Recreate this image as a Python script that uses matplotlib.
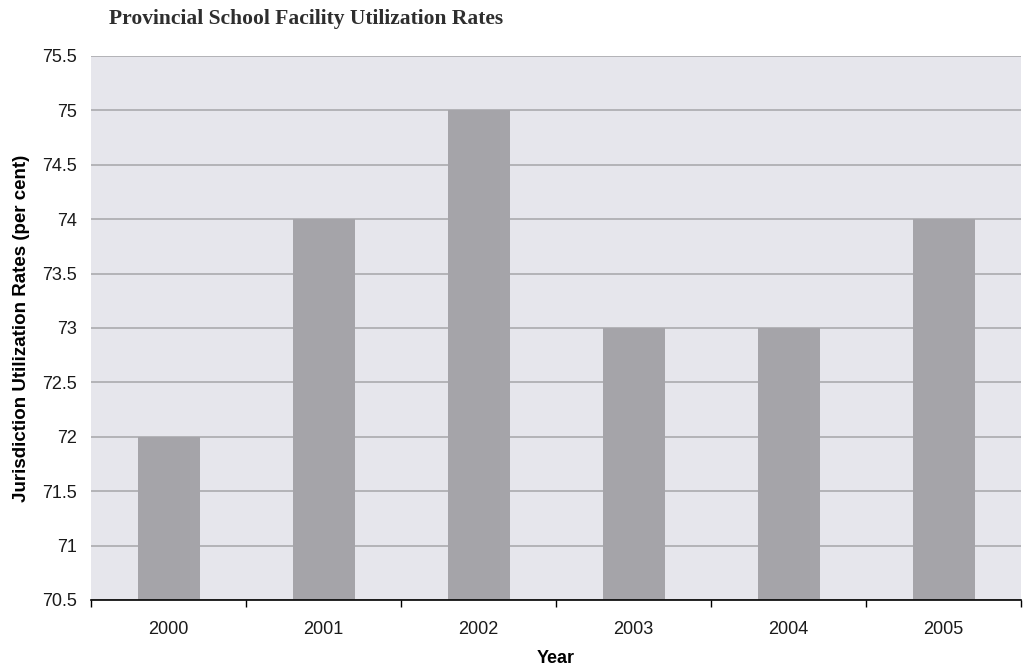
import matplotlib.pyplot as plt
import numpy as np

years = ["2000", "2001", "2002", "2003", "2004", "2005"]
rates = [72, 74, 75, 73, 73, 74]
yticks = [70.5, 71, 71.5, 72, 72.5, 73, 73.5, 74, 74.5, 75, 75.5]
ytick_labels = ["70.5", "71", "71.5", "72", "72.5", "73", "73.5", "74", "74.5", "75", "75.5"]

plt.rcParams["font.family"] = ["Liberation Sans", "DejaVu Sans"]

fig = plt.figure(figsize=(10.23, 6.67), dpi=100)
ax = fig.add_axes([91 / 1023, 1 - 600 / 667, 930 / 1023, 544 / 667])
ax.set_facecolor("#e6e6ec")

x = np.arange(len(years))
ax.bar(x, [r - 70.5 for r in rates], bottom=70.5, width=0.4, color="#a5a4a9", zorder=2)

ax.set_xlim(-0.5, len(years) - 0.5)
ax.set_ylim(70.5, 75.5)
ax.set_yticks(yticks)
ax.set_yticklabels(ytick_labels)
ax.yaxis.grid(True, color="#aaaaae", linewidth=1.2, zorder=1)
ax.set_axisbelow(True)
ax.tick_params(axis="y", length=0, labelsize=13, pad=10, labelcolor="#1a1a1a")

# category labels at centres, tick marks on the boundaries
ax.set_xticks(x)
ax.set_xticklabels(years)
ax.set_xticks(np.arange(-0.5, len(years)), minor=True)
ax.tick_params(axis="x", which="major", length=0, labelsize=13, pad=15, labelcolor="#1a1a1a")
ax.tick_params(axis="x", which="minor", length=5, width=1, direction="out")

for side in ["left", "right", "top"]:
    ax.spines[side].set_visible(False)
ax.spines["bottom"].set_linewidth(1.2)

ax.set_xlabel("Year", fontsize=13, fontweight="bold", labelpad=9)
ax.set_ylabel("Jurisdiction Utilization Rates (per cent)", fontsize=13.5, fontweight="bold", labelpad=9)

fig.text(109 / 1023, 1 - 19 / 667, "Provincial School Facility Utilization Rates",
         fontsize=15.5, fontweight="bold", family="Liberation Serif", color="#2e2e2e", va="center")

fig.savefig("out.png", dpi=100)
